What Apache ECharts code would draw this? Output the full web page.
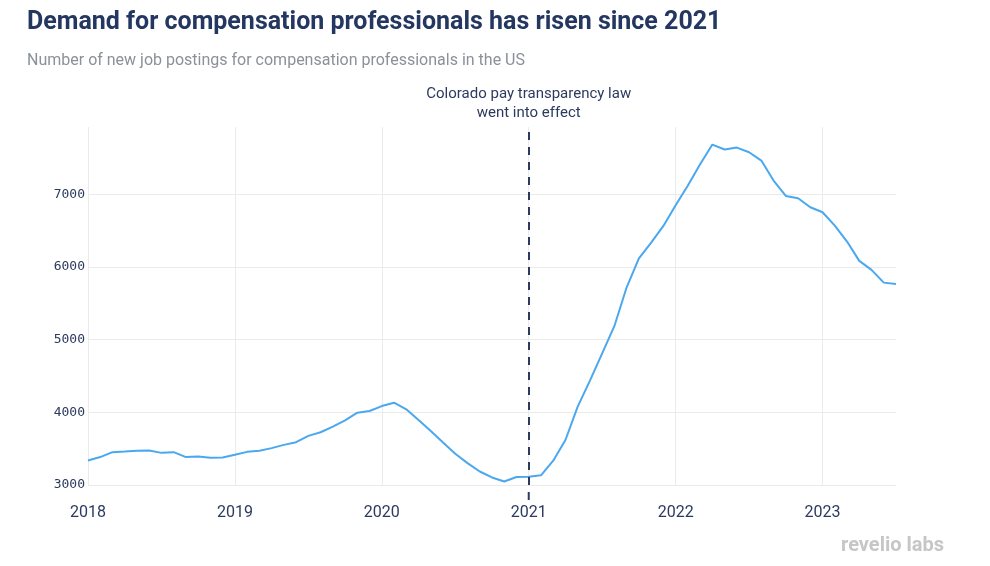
<!DOCTYPE html>
<html>
<head>
<meta charset="utf-8">
<script src="https://cdn.jsdelivr.net/npm/echarts@6/dist/echarts.min.js"></script>
<style>
html,body{margin:0;padding:0;background:#fff;}
#chart{width:990px;height:566px;}
</style>
</head>
<body>
<div id="chart"></div>
<script>
const titleText = 'Demand for compensation professionals has risen since 2021';
const subtitleText = 'Number of new job postings for compensation professionals in the US';
const startYear = 2018;
// monthly new job postings, Jan 2018 .. Jul 2023
const postings2018 = [3337, 3384, 3452, 3460, 3470, 3474, 3442, 3452, 3384, 3393, 3374, 3379];
const postings2019 = [3415, 3456, 3470, 3507, 3552, 3589, 3676, 3726, 3803, 3890, 3995, 4018];
const postings2020 = [4086, 4132, 4041, 3895, 3744, 3584, 3429, 3301, 3186, 3104, 3049, 3110];
const postings2021 = [3115, 3133, 3335, 3619, 4078, 4436, 4812, 5188, 5720, 6119, 6335, 6564];
const postings2022 = [6849, 7119, 7413, 7683, 7615, 7642, 7578, 7463, 7188, 6977, 6945, 6821];
const postings2023 = [6752, 6569, 6349, 6083, 5959, 5784, 5766];
const postings = [].concat(postings2018, postings2019, postings2020, postings2021, postings2022, postings2023);
const yearTicks = [2018, 2019, 2020, 2021, 2022, 2023];
const yTicks = [3000, 4000, 5000, 6000, 7000];
const xMax = 2023.5;
const yMin = 3000, yMax = 7925;
const eventYear = 2021;
const eventLabel = 'Colorado pay transparency law\nwent into effect';

const seriesData = postings.map((v, i) => [startYear + i / 12, v]);

const navy = '#2b3a5e';
const gridColor = '#ebebeb';

const chart = echarts.init(document.getElementById('chart'), null, {renderer: 'canvas'});
chart.setOption({
  animation: false,
  backgroundColor: '#fff',
  title: [
    {text: titleText, left: 27, top: 10, padding: 0,
     textStyle: {fontFamily: 'Roboto', fontSize: 25, fontWeight: 'bold', color: '#243761'}},
    {text: subtitleText, left: 27, top: 53, padding: 0,
     textStyle: {fontFamily: 'Roboto', fontSize: 16, fontWeight: 'normal', color: '#8b9099'}}
  ],
  graphic: [
    {id: 'logo', type: 'text', right: 46, bottom: 10,
     style: {text: 'revelio labs', fontFamily: 'Roboto', fontSize: 20, fontWeight: 'bold', fill: '#c6c6c6'}}
  ],
  grid: {left: 88, right: 94, top: 127, bottom: 81, containLabel: false},
  xAxis: {type: 'value', min: startYear, max: xMax, interval: 1,
    axisLine: {show: false}, axisTick: {show: false},
    axisLabel: {customValues: yearTicks, formatter: v => String(Math.round(v)), fontFamily: 'Roboto', fontSize: 16, color: navy, margin: 20},
    splitLine: {show: true, lineStyle: {color: [gridColor, gridColor, gridColor, gridColor, gridColor, gridColor, 'rgba(0,0,0,0)'], width: 1}}},
  yAxis: {type: 'value', min: yMin, max: yMax, interval: 1000,
    axisLine: {show: false}, axisTick: {show: false},
    axisLabel: {customValues: yTicks, formatter: v => String(v), fontFamily: 'DejaVu Sans Mono', fontSize: 13, color: navy, margin: 3},
    splitLine: {show: true, lineStyle: {color: [gridColor, gridColor, gridColor, gridColor, gridColor, 'rgba(0,0,0,0)'], width: 1}}},
  series: [{
    type: 'line',
    data: seriesData,
    symbol: 'none',
    lineStyle: {color: '#4aa8ef', width: 2},
    markLine: {
      silent: true, symbol: 'none',
      lineStyle: {color: navy, width: 2, type: [8, 7]},
      label: {show: true, position: 'end', formatter: eventLabel, fontFamily: 'Roboto', fontSize: 15, color: navy, lineHeight: 19, distance: 4},
      data: [{xAxis: eventYear}]
    }
  }]
});

// short continuation of the event marker below the x axis, placed via the chart's own scales
let stubDone = false;
function addStub() {
  if (stubDone) return;
  const pt = chart.convertToPixel({seriesIndex: 0}, [eventYear, yMin]);
  if (!pt || !isFinite(pt[0]) || !isFinite(pt[1])) return;
  stubDone = true;
  chart.setOption({
    graphic: [{
      id: 'eventStub', type: 'rect', silent: true, z: 100,
      shape: {x: pt[0] - 1, y: pt[1] + 7, width: 2, height: 8},
      style: {fill: navy}
    }]
  });
}
addStub();
chart.on('finished', addStub);
</script>
</body>
</html>
